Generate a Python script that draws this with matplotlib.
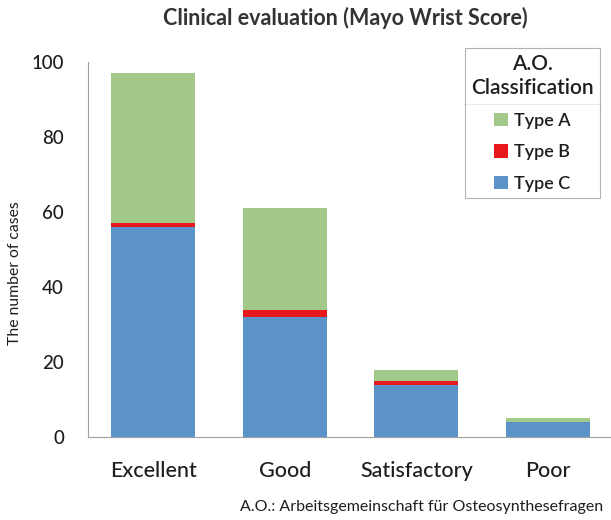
import numpy as np
import matplotlib
matplotlib.use("Agg")
import matplotlib.pyplot as plt
from matplotlib.lines import Line2D

plt.rcParams['font.family'] = ['Lato', 'DejaVu Sans']

# data
categories = ["Excellent", "Good", "Satisfactory", "Poor"]
type_c = [56, 32, 14, 4]
type_b = [1, 2, 1, 0]
type_a = [40, 27, 3, 1]

col_a = "#a3c98a"
col_b = "#e8191c"
col_c = "#5b93c9"
txt = "#1e1e1e"

W, H = 611, 520
fig = plt.figure(figsize=(W / 100, H / 100), dpi=100)
ax = fig.add_axes([87.7 / W, 1 - 437 / H, 1 - 87.7 / W + 0.004, (437 - 62) / H])

x = np.arange(len(categories))
w = 0.64
bc = ax.bar(x, type_c, w, color=col_c, label="Type C")
bb = ax.bar(x, type_b, w, bottom=type_c, color=col_b, label="Type B")
bottom_a = np.array(type_c) + np.array(type_b)
ba = ax.bar(x, type_a, w, bottom=bottom_a, color=col_a, label="Type A")

ax.set_xlim(-0.5, 3.5)
ax.set_ylim(0, 100)
ax.set_yticks(range(0, 101, 20))
ax.set_xticks(x)
ax.set_xticklabels(categories, fontsize=15.5, fontweight="medium", color=txt)
for t in ax.get_yticklabels():
    t.set_fontweight("medium")
ax.tick_params(axis='y', labelsize=13.5, length=0, pad=17, labelcolor=txt)
ax.tick_params(axis='x', length=0, pad=17)
for s in ["top", "right"]:
    ax.spines[s].set_visible(False)
for s in ["left", "bottom"]:
    ax.spines[s].set_color("#a0a0a0")
    ax.spines[s].set_linewidth(0.8)

fig.text(15 / W, 1 - 273 / H, "The number of cases", rotation=90, ha="center", va="center",
         fontsize=11.3, color=txt)
fig.text(345.5 / W, 1 - 18 / H, "Clinical evaluation (Mayo Wrist Score)", ha="center",
         va="center", fontsize=15.5, fontweight="bold", color="#333333")
fig.text(603 / W, 1 - 507 / H, "A.O.: Arbeitsgemeinschaft für Osteosynthesefragen", ha="right",
         va="center", fontsize=11.5, color=txt)

leg = fig.legend([ba, bb, bc], ["Type A", "Type B", "Type C"],
                 title="A.O.\nClassification", loc="upper left",
                 bbox_to_anchor=(465 / W, 1 - 48 / H),
                 prop={"size": 13, "weight": "semibold"},
                 handlelength=0.75, handleheight=0.75,
                 handletextpad=0.35, labelspacing=0.85, borderpad=0.35,
                 fancybox=False, borderaxespad=0)
leg.set_title("A.O.\nClassification", prop={"size": 15, "weight": "semibold"})
leg.get_title().set_multialignment("center")
leg.get_title().set_color(txt)
for t in leg.get_texts():
    t.set_color(txt)
leg.get_frame().set_edgecolor("#a0a0a0")
leg.get_frame().set_linewidth(0.8)
leg._legend_box.align = "center"

fig.canvas.draw()
inv = fig.transFigure.inverted()
lb = leg.get_window_extent()
tb = leg.get_title().get_window_extent()
ysep = tb.y0 - 6
p0 = inv.transform((lb.x0, ysep))
p1 = inv.transform((lb.x1, ysep))
fig.add_artist(Line2D([p0[0], p1[0]], [p0[1], p1[1]], color="#a0a0a0", lw=0.8))

fig.savefig("out.png", dpi=100)
